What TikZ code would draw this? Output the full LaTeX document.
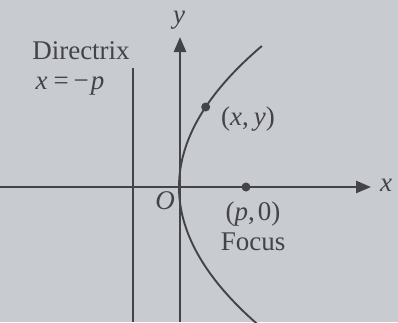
\documentclass[tikz,border=0pt]{standalone}
\usepackage{fontspec}
\setmainfont{Liberation Serif}
\usetikzlibrary{arrows.meta}
\definecolor{bg}{RGB}{200,203,208}
\definecolor{ink}{RGB}{68,68,72}
\begin{document}
\begin{tikzpicture}[x=1pt,y=-1pt,
  axis/.style={draw=ink,line width=2.6pt,-{Triangle[length=15pt,width=12pt]}},
  curve/.style={draw=ink,line width=1.9pt},
  lbl/.style={text=ink,font=\fontsize{27}{30}\selectfont,inner sep=0pt},
  dotmark/.style={circle,fill=ink,inner sep=0pt,minimum size=9pt}]
\fill[bg] (0,0) rectangle (398,322);
\useasboundingbox (0,0) rectangle (398,322);
\coordinate (xs) at (0,187);
\coordinate (xe) at (371,187);
\coordinate (ys) at (180,322);
\coordinate (ye) at (180,37);
\coordinate (ds) at (133,68);
\coordinate (de) at (133,322);
\draw[axis] (xs) -- (xe);
\draw[axis] (ys) -- (ye);
\draw[curve] (ds) -- (de);
\draw[curve] plot[domain=-137:141,samples=80,smooth] ({179+(\x/240)*\x},{187-\x});
\node[dotmark] (P) at ({179+80*80/240},107) {};
\node[dotmark] (F) at (246,187) {};
\node[lbl] (xl) at (386,185) {\textit{x}};
\node[lbl] (yl) at (179,20) {\textit{y}};
\node[lbl] (O) at (165,201) {\textit{O}};
\node[lbl] (dir) at (81,51) {Directrix};
\node[lbl] (deq) at (70,86) {\textit{x}\hspace{6pt}=\hspace{5pt}−\hspace{2pt}\textit{p}};
\node[lbl] (pl) at (248,119) {(\textit{x},\hspace{5pt}\textit{y})};
\node[lbl] (fl) at (253,214) {(\textit{p},\hspace{3pt}0)};
\node[lbl] (foc) at (253,242) {Focus};
\end{tikzpicture}
\end{document}
